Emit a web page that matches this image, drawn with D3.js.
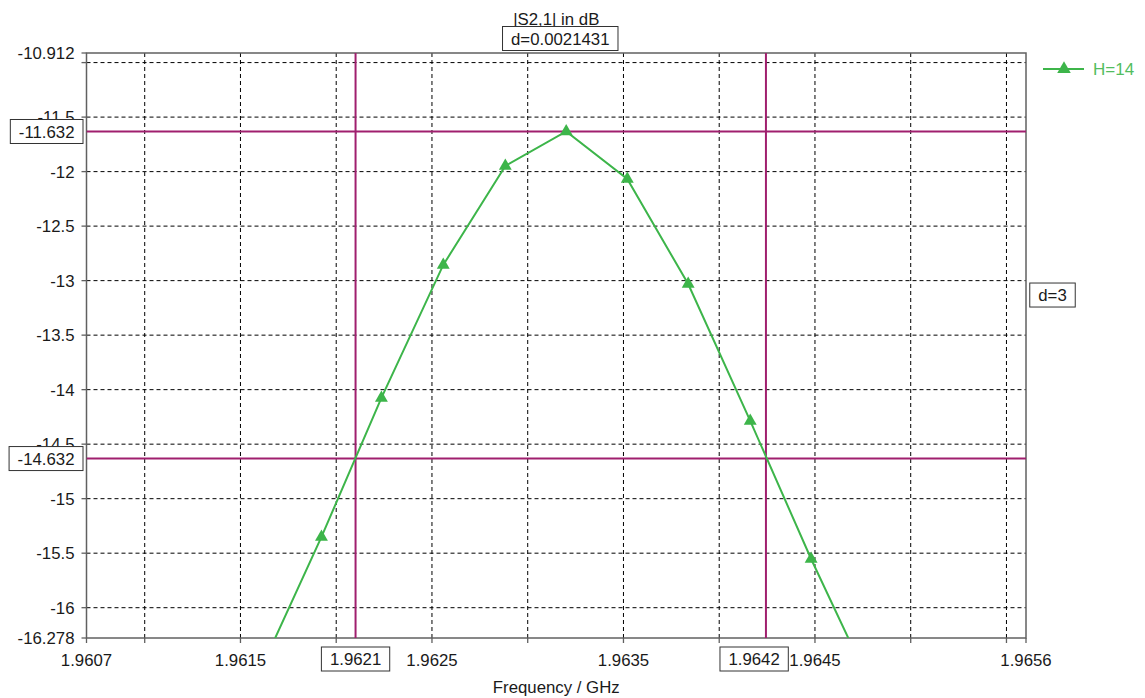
<!DOCTYPE html>
<html lang="en">
<head>
<meta charset="UTF-8">
<title>|S2,1| in dB</title>
<script src="https://d3js.org/d3.v7.min.js"></script>
<style>
    html, body { margin: 0; padding: 0; background: #ffffff; }
    svg { display: block; font-family: 'Liberation Sans', Arial, sans-serif; }
    .tick-label { fill: #1a1a1a; font-size: 16.8px; }
    .grid line { stroke: #000; stroke-width: 1; stroke-dasharray: 4,3; }
</style>
</head>
<body>
<svg id="chart" width="1145" height="698"></svg>
<script>
    // --- data ---
    const freqGHz = [1.961603, 1.961923, 1.962236, 1.962559, 1.962883, 1.963201, 1.963520, 1.963838, 1.964162, 1.964480, 1.964799];
    const s21dB   = [-16.578, -15.351, -14.076, -12.856, -11.948, -11.632, -12.068, -13.031, -14.287, -15.553, -16.745];
    const seriesName = "H=14";

    // axis range and ticks
    const xRange = [1.960696, 1.965602];
    const yRange = [-16.278, -10.912];
    const xEdgeLabels = ["1.9607", "1.9656"];
    const yEdgeLabels = ["-16.278", "-10.912"];
    const xTicks = [1.9610, 1.9615, 1.9620, 1.9625, 1.9630, 1.9635, 1.9640, 1.9645, 1.9650, 1.9655];
    const xTickLabels = [1.9615, 1.9625, 1.9635, 1.9645];
    const yTicks = [-11, -11.5, -12, -12.5, -13, -13.5, -14, -14.5, -15, -15.5, -16];
    const yTickLabels = [-11.5, -12, -12.5, -13, -13.5, -14, -14.5, -15, -15.5, -16];

    // markers
    const xMarkers = [1.962101, 1.964244];
    const xMarkerLabels = ["1.9621", "1.9642"];
    const yMarkers = [-11.632, -14.632];
    const yMarkerLabels = ["-11.632", "-14.632"];
    const xDeltaLabel = "d=0.0021431";
    const yDeltaLabel = "d=3";

    const title = "|S2,1| in dB";
    const xTitle = "Frequency / GHz";

    const GREEN = "#3db54a";
    const PURPLE = "#a01f6e";
    const FRAME = "#606060";

    const svg = d3.select("#chart");
    const margin = {top: 53, right: 119, bottom: 60, left: 86.5};
    const W = 1145, H = 698;
    const x = d3.scaleLinear().domain(xRange).range([margin.left, W - margin.right]);
    const y = d3.scaleLinear().domain(yRange).range([H - margin.bottom, margin.top]);
    const [x0, x1] = x.range();
    const [y0, y1] = [y.range()[1], y.range()[0]];

    // label box helper
    function textBox(g, label, cx, cy, anchor) {
        const grp = g.append("g");
        const rect = grp.append("rect").attr("fill", "#fff").attr("stroke", "#333").attr("stroke-width", 1);
        const t = grp.append("text").attr("class", "tick-label").attr("x", cx).attr("y", cy)
            .attr("dy", "0.36em").attr("text-anchor", anchor || "middle").text(label);
        const bb = t.node().getBBox();
        rect.attr("x", bb.x - 8.5).attr("y", cy - 12).attr("width", bb.width + 17).attr("height", 24);
        return grp;
    }

    // grid
    const grid = svg.append("g").attr("class", "grid");
    grid.selectAll(".vx").data(xTicks).join("line")
        .attr("x1", d => x(d)).attr("x2", d => x(d)).attr("y1", y0).attr("y2", y1);
    grid.selectAll(".hy").data(yTicks).join("line")
        .attr("y1", d => y(d)).attr("y2", d => y(d)).attr("x1", x0).attr("x2", x1);

    // frame
    svg.append("rect").attr("x", x0).attr("y", y0).attr("width", x1 - x0).attr("height", y1 - y0)
        .attr("fill", "none").attr("stroke", FRAME).attr("stroke-width", 1.5);

    // tick marks
    const ticksG = svg.append("g").attr("stroke", FRAME).attr("stroke-width", 1.3);
    ticksG.selectAll(".tx").data(xTicks.concat(xRange)).join("line")
        .attr("x1", d => x(d)).attr("x2", d => x(d)).attr("y1", y1).attr("y2", y1 + 5);
    ticksG.selectAll(".ty").data(yTicks.concat(yRange)).join("line")
        .attr("y1", d => y(d)).attr("y2", d => y(d)).attr("x1", x0 - 5).attr("x2", x0);

    // tick labels
    const labelsG = svg.append("g");
    const xLab = labelsG.selectAll(".xl").data(xTickLabels).join("text")
        .attr("class", "tick-label").attr("x", d => x(d)).attr("y", y1 + 28)
        .attr("text-anchor", "middle").text(d => d3.format(".4f")(d));
    labelsG.selectAll(".xe").data(xRange).join("text")
        .attr("class", "tick-label").attr("x", d => x(d)).attr("y", y1 + 28)
        .attr("text-anchor", "middle").text((d, i) => xEdgeLabels[i]);
    labelsG.selectAll(".yl").data(yTickLabels).join("text")
        .attr("class", "tick-label").attr("x", x0 - 12).attr("y", d => y(d)).attr("dy", "0.36em")
        .attr("text-anchor", "end").text(d => d);
    labelsG.selectAll(".ye").data(yRange).join("text")
        .attr("class", "tick-label").attr("x", x0 - 12).attr("y", d => y(d)).attr("dy", "0.36em")
        .attr("text-anchor", "end").text((d, i) => yEdgeLabels[i]);

    // axis title + chart title
    svg.append("text").attr("class", "tick-label").attr("x", (x0 + x1) / 2).attr("y", y1 + 55)
        .attr("text-anchor", "middle").text(xTitle);
    svg.append("text").attr("class", "tick-label").attr("x", (x0 + x1) / 2).attr("y", 25)
        .attr("text-anchor", "middle").text(title);

    // clip for plot contents
    svg.append("clipPath").attr("id", "plotClip").append("rect")
        .attr("x", x0).attr("y", y0).attr("width", x1 - x0).attr("height", y1 - y0);
    const plot = svg.append("g").attr("clip-path", "url(#plotClip)");

    // marker lines
    plot.selectAll(".mx").data(xMarkers).join("line")
        .attr("x1", d => x(d)).attr("x2", d => x(d)).attr("y1", y0).attr("y2", y1)
        .attr("stroke", PURPLE).attr("stroke-width", 2);
    plot.selectAll(".my").data(yMarkers).join("line")
        .attr("y1", d => y(d)).attr("y2", d => y(d)).attr("x1", x0).attr("x2", x1)
        .attr("stroke", PURPLE).attr("stroke-width", 2);

    // series
    const pts = freqGHz.map((f, i) => [f, s21dB[i]]);
    plot.append("path").datum(pts)
        .attr("fill", "none").attr("stroke", GREEN).attr("stroke-width", 2)
        .attr("d", d3.line().x(d => x(d[0])).y(d => y(d[1])));
    const tri = d3.symbol().type(d3.symbolTriangle).size(72);
    plot.selectAll(".pt").data(pts).join("path")
        .attr("transform", d => `translate(${x(d[0])},${y(d[1])})`)
        .attr("d", tri).attr("fill", GREEN);

    // marker value boxes
    const boxesG = svg.append("g");
    const labelBoxes = xLab.nodes().map(n => n.getBBox());
    xMarkers.forEach((v, i) => {
        const b = textBox(boxesG, xMarkerLabels[i], x(v), y1 + 21);
        const bb = b.node().getBBox();
        // push box left/right if it would cover a tick label
        labelBoxes.forEach(lb => {
            if (bb.x < lb.x + lb.width && bb.x + bb.width > lb.x) {
                const shift = (lb.x > x(v)) ? (lb.x - 1 - (bb.x + bb.width)) : (lb.x + lb.width + 1 - bb.x);
                b.attr("transform", `translate(${shift},0)`);
            }
        });
    });
    yMarkers.forEach((v, i) => textBox(boxesG, yMarkerLabels[i], x0 - 12, y(v), "end"));
    textBox(boxesG, xDeltaLabel, (x0 + x1) / 2 + 4, 38.5);
    textBox(boxesG, yDeltaLabel, x1 + 26.5, (y(yMarkers[0]) + y(yMarkers[1])) / 2);

    // legend
    const leg = svg.append("g").attr("transform", `translate(${x1 + 17},69)`);
    leg.append("line").attr("x1", 0).attr("x2", 41).attr("stroke", GREEN).attr("stroke-width", 2);
    leg.append("path").attr("d", d3.symbol().type(d3.symbolTriangle).size(80)).attr("transform", "translate(21,0)").attr("fill", GREEN);
    leg.append("text").attr("x", 50).attr("dy", "0.36em").attr("fill", "#52bd5e").style("font-size", "17px").text(seriesName);
</script>
</body>
</html>
